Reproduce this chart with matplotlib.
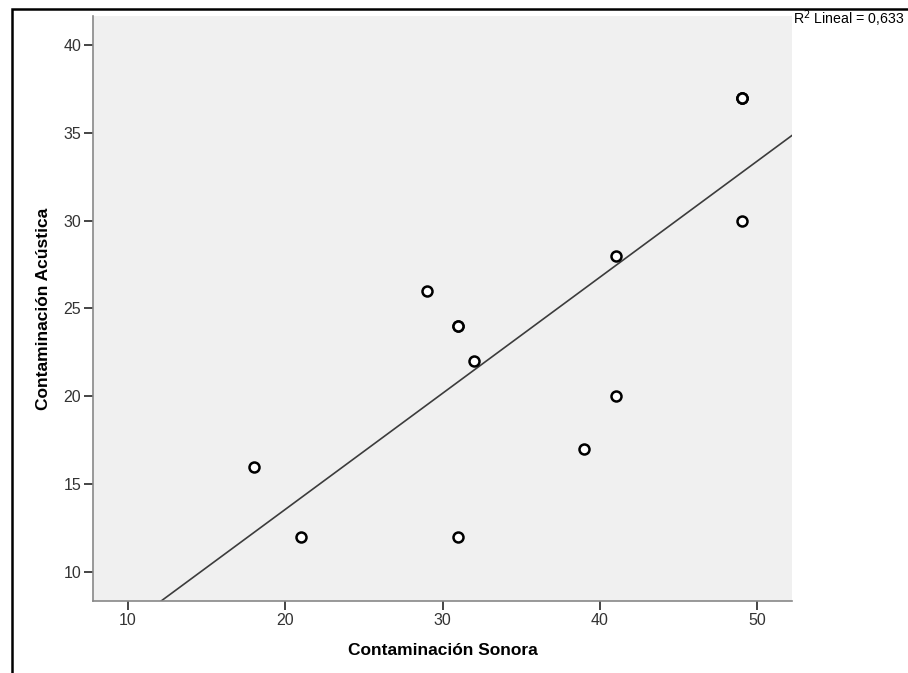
import numpy as np
import matplotlib
matplotlib.use("Agg")
import matplotlib.pyplot as plt
from matplotlib.patches import Rectangle

# Contaminación Sonora (x) vs Contaminación Acústica (y); n = repeated cases
sonora = [18, 21, 29, 31, 32, 31, 39, 41, 41, 49, 49]
acustica = [16, 12, 26, 24, 22, 12, 17, 20, 28, 30, 37]
n = [1, 1, 1, 2, 1, 1, 1, 1, 1, 1, 3]
x_ticks = [10, 20, 30, 40, 50]
y_ticks = [10, 15, 20, 25, 30, 35, 40]
r2_label = "R$^2$ Lineal = 0,633"

plt.rcParams['font.family'] = ['Liberation Sans', 'DejaVu Sans']

xs = np.repeat(sonora, n)
ys = np.repeat(acustica, n)
b, a = np.polyfit(xs, ys, 1)

fig = plt.figure(figsize=(9.08, 6.73), dpi=100)
# outer frame as in the SPSS output viewer
fig.patches.append(Rectangle((11.5 / 908, -0.5), 2, 1.5 - 9 / 673, transform=fig.transFigure,
                             fill=False, edgecolor='black', linewidth=1.8, clip_on=True))

ax = fig.add_axes([93 / 908, 72 / 673, 699 / 908, 585 / 673])
ax.set_facecolor('#f0f0f0')
xlim = (7.77, 52.2)
ax.set_xlim(*xlim)
ax.set_ylim(8.35, 41.65)

line_x = np.array(xlim)
ax.plot(line_x, a + b * line_x, color='#3c3c3c', linewidth=1.2, zorder=2)

for xi, yi, k in zip(sonora, acustica, n):
    for _ in range(k):
        ax.plot(xi, yi, 'o', markersize=7.2, markerfacecolor='white',
                markeredgecolor='black', markeredgewidth=1.8, zorder=3)

for s in ['top', 'right']:
    ax.spines[s].set_visible(False)
for s in ['left', 'bottom']:
    ax.spines[s].set_color('#888888')
    ax.spines[s].set_linewidth(1.2)

ax.set_xticks(x_ticks)
ax.set_yticks(y_ticks)
ax.tick_params(direction='out', length=6.5, width=1.4, color='#444444',
               labelsize=11.5, labelcolor='#333333', pad=2)

ax.set_xlabel("Contaminación Sonora", fontsize=12.5, fontweight='bold', labelpad=11)
ax.set_ylabel("Contaminación Acústica", fontsize=12.5, fontweight='bold', labelpad=9)

fig.text(793 / 908, 1 - 24 / 673, r2_label, fontsize=10.2, color='black', va='baseline')

fig.savefig("out.png", dpi=100)
